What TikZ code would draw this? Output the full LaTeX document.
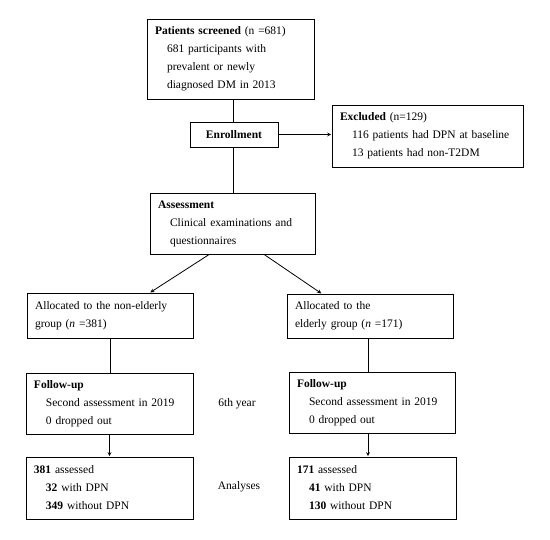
\documentclass[tikz,border=0pt]{standalone}
\usepackage{fontspec}
\setmainfont{Liberation Serif}
\usepackage{tikz}
\usetikzlibrary{calc}

\begin{document}
\begin{tikzpicture}[x=1pt,y=-1pt,line width=0.8pt,>=stealth]
	\tikzstyle{kasten}=[draw,align=left,inner xsep=8pt,inner ysep=2pt,font=\fontsize{11.5}{18}\selectfont];
	\tikzstyle{pfeil}=[->,shorten >=0.4pt];
	\tikzstyle{notiz}=[font=\fontsize{11.5}{18}\selectfont];
\newcommand{\ein}{\hspace*{12pt}}
%<--------------------------------------------------------------------------->%

	\useasboundingbox (0,0) rectangle (550,540);
	\node[kasten,text width=151pt,minimum height=80pt] (screen) at (230.5,59)
		{\textbf{Patients screened} (n =681)\\ \ein 681 participants with\\ \ein prevalent or newly\\ \ein diagnosed DM in 2013};
	\node[kasten,align=center,minimum width=88pt,minimum height=25pt,inner xsep=0pt] (enroll) at (234,134.5) {\textbf{Enrollment}};
	\node[kasten,text width=175pt,minimum height=62pt] (excl) at (427.5,136)
		{\textbf{Excluded} (n=129)\\ \ein 116 patients had DPN at baseline\\ \ein 13 patients had non-T2DM};
	\node[kasten,text width=149pt,minimum height=61pt] (assess) at (232.5,223.5)
		{\textbf{Assessment}\\ \ein Clinical examinations and\\ \ein questionnaires};
	\node[kasten,text width=150pt,minimum height=45pt] (allocL) at (110,315.5)
		{Allocated to the non-elderly\\ group (\textit{n} =381)};
	\node[kasten,text width=150pt,minimum height=44pt] (allocR) at (370,316)
		{Allocated to the\\ elderly group (\textit{n} =171)};
	\node[kasten,text width=151pt,minimum height=61pt] (followL) at (109.5,403.5)
		{\textbf{Follow-up}\\ \ein Second assessment in 2019\\ \ein 0 dropped out};
	\node[kasten,text width=150pt,minimum height=61pt] (followR) at (372,402.5)
		{\textbf{Follow-up}\\ \ein Second assessment in 2019\\ \ein 0 dropped out};
	\node[kasten,text width=151pt,minimum height=62pt] (anaL) at (109.5,488)
		{\textbf{381} assessed\\ \ein \textbf{32} with DPN\\ \ein \textbf{349} without DPN};
	\node[kasten,text width=151pt,minimum height=62pt] (anaR) at (372.5,488)
		{\textbf{171} assessed\\ \ein \textbf{41} with DPN\\ \ein \textbf{130} without DPN};
	\node[notiz] (jahr) at (237,404) {6th year};
	\node[notiz] (analyse) at (239,487) {Analyses};
	%% Verbindungen
	\coordinate (E) at ($(enroll.north)+(-1,0)$);
	\coordinate (F) at ($(enroll.south)+(-1,0)$);
	\draw (E) -- (E |- screen.south);
	\draw (F) -- (F |- assess.north);
	\draw[pfeil] (enroll.east) -- (enroll.east -| excl.west);
	\draw[pfeil] ($(assess.south west)!0.36!(assess.south east)$) -- ($(allocL.north west)!0.74!(allocL.north east)$);
	\draw[pfeil] ($(assess.south west)!0.69!(assess.south east)$) -- ($(allocR.north west)!0.21!(allocR.north east)$);
	\draw (allocL.south) -- (allocL.south |- followL.north);
	\draw[pfeil] (followL.south) -- (followL.south |- anaL.north);
	\coordinate (R) at ($(allocR.south)+(-2,0)$);
	\draw (R) -- (R |- followR.north);
	\coordinate (S) at ($(followR.south)+(-4,0)$);
	\draw[pfeil] (S) -- (S |- anaR.north);
\end{tikzpicture}
\end{document}
